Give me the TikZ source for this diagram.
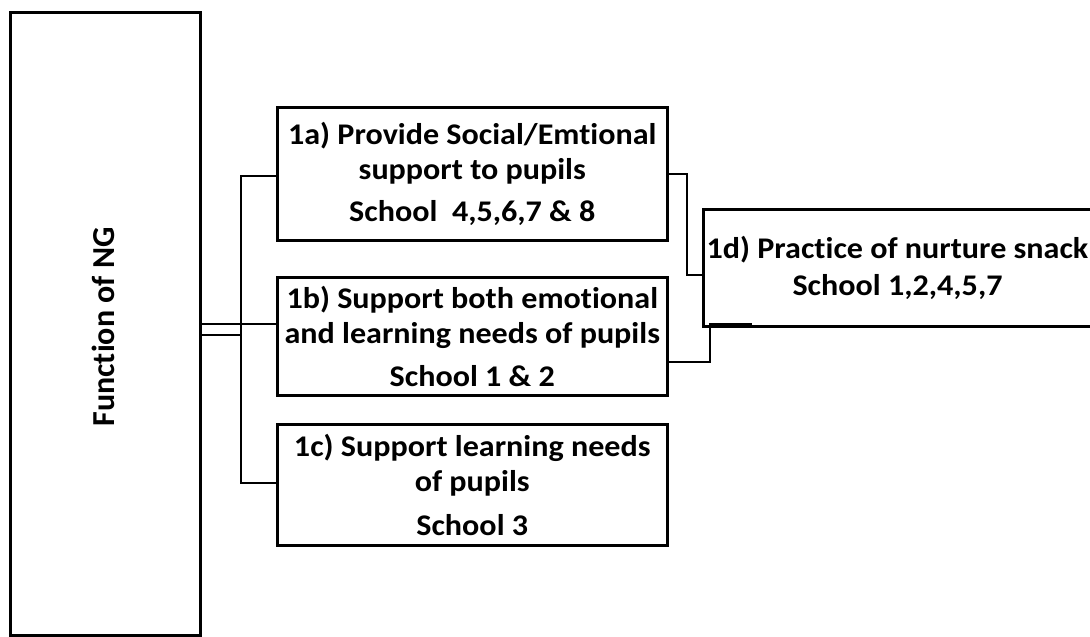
\documentclass[tikz,border=0pt]{standalone}
\usepackage{fontspec}
\setmainfont{Carlito}[RawFeature=-liga]
\newfontfamily\boxfont{Carlito}[FakeStretch=1.07,RawFeature=-liga]
\begin{document}
\begin{tikzpicture}[x=1pt,y=-1pt,
  box/.style={draw=black,line width=3pt,fill=white,inner sep=0pt,align=center,
    font=\boxfont\fontsize{30}{35}\selectfont\bfseries},
  conn/.style={draw=black,line width=1.6pt}]
\useasboundingbox (0,0) rectangle (1090,637);
\clip (0,0) rectangle (1090,637);
\fill[white] (0,0) rectangle (1090,637);
% nodes
\node[box,minimum width=189.5pt,minimum height=622.5pt] (main) at (105.25,323.75) {};
\node[font=\fontsize{32}{36}\selectfont\bfseries,rotate=90] (mainlabel) at (103,327) {Function of NG};
\node[box,minimum width=390.5pt,minimum height=133pt] (a) at (472.25,174)
  {1a) Provide Social/Emtional\\ support to pupils\\[7pt] School\ \ 4,5,6,7 \& 8};
\node[box,minimum width=390.5pt,minimum height=118pt] (b) at (472.25,336)
  {1b) Support both emotional\\ and learning needs of pupils\\[8pt] School 1 \& 2};
\node[box,minimum width=390.5pt,minimum height=121pt] (c) at (472.25,484.5)
  {1c) Support learning needs\\ of pupils\\[9pt] School 3};
\node[box,minimum width=389pt,minimum height=117pt] (d) at (897.5,267.5)
  {1d) Practice of nurture snack\\[2pt] School 1,2,4,5,7};
% junction coordinates
\coordinate (j1) at (241,176);
\coordinate (j2) at (241,483);
\coordinate (j3) at (241,335);
\coordinate (k2) at (200,335);
\coordinate (p1) at (687,275);
\coordinate (r1) at (668,362);
\coordinate (q1) at (710,324);
\coordinate (q2) at (752,324);
% connectors
\draw[conn] (a.west |- j1) -- (j1) -- (j2) -- (c.west |- j2);
\draw[conn] (main.east) -- (main.east -| b.west);
\draw[conn] (k2) -- (j3);
\draw[conn] (a.east) -| (p1) -- (p1 -| d.west);
\draw[conn] (r1) -| (q1) -- (q2);
\end{tikzpicture}
\end{document}
